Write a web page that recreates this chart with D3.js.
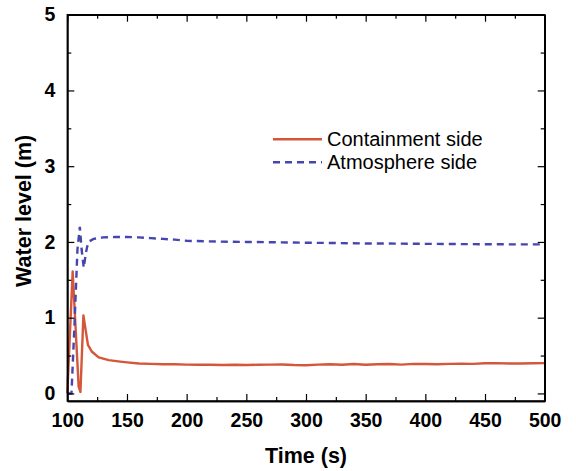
<!DOCTYPE html>
<html>
<head>
<meta charset="utf-8">
<script src="https://cdn.jsdelivr.net/npm/d3@7"></script>
<style>
  html, body { margin: 0; padding: 0; background: #fff; }
  svg { display: block; font-family: "Liberation Sans", Arial, sans-serif; }
</style>
</head>
<body>
<svg id="chart" width="576" height="471"></svg>
<script>
// ---- data ----
const containmentTime = [100, 104.5, 109.5, 111, 113.5, 117.3, 120.7, 126.3, 134.7, 144.4,
  150, 160, 170, 180, 190, 200, 210, 220, 230, 240, 250, 260, 270, 280, 290, 300,
  310, 320, 330, 340, 350, 360, 370, 380, 390, 400, 410, 420, 430, 440, 450, 460,
  470, 480, 490, 500];
const containmentLevel = [0, 1.61, 0.09, 0.02, 1.03, 0.64, 0.55, 0.475, 0.44, 0.42,
  0.41, 0.395, 0.39, 0.385, 0.385, 0.38, 0.378, 0.378, 0.376, 0.378, 0.376, 0.378, 0.38, 0.382, 0.375, 0.372,
  0.38, 0.385, 0.378, 0.388, 0.378, 0.385, 0.388, 0.38, 0.39, 0.388, 0.385, 0.39, 0.392, 0.39, 0.398, 0.4,
  0.395, 0.395, 0.398, 0.4];

const atmosphereTime = [100, 103.5, 106, 108.5, 110.5, 112, 113.8, 115.5, 117.5, 122,
  130, 140, 150, 160, 170, 180, 190, 200, 225, 250, 275, 300, 325, 350, 375, 400,
  425, 450, 475, 500];
const atmosphereLevel = [0, 0, 0.9, 1.9, 2.2, 1.9, 1.66, 1.85, 2.0, 2.04,
  2.06, 2.065, 2.065, 2.06, 2.05, 2.04, 2.03, 2.015, 2.005, 2.0, 1.995, 1.99, 1.985, 1.98, 1.978, 1.975,
  1.972, 1.97, 1.968, 1.968];

const xTicks = [100, 150, 200, 250, 300, 350, 400, 450, 500];
const xMinorTicks = [125, 175, 225, 275, 325, 375, 425, 475];
const yTicks = [0, 1, 2, 3, 4, 5];
const yMinorTicks = [0.5, 1.5, 2.5, 3.5, 4.5];

const seriesNames = ["Containment side", "Atmosphere side"];
const seriesColors = ["#d4573a", "#4646b0"];

// ---- layout ----
const svg = d3.select("#chart");
const L = 67.3, R = 544.7, T = 14.7, B = 401;

const x = d3.scaleLinear().domain([100, 500]).range([L, R]);
const y = d3.scaleLinear().domain([-0.1, 5]).range([B, T]);

// lines
const contData = containmentTime.map((t, i) => [t, containmentLevel[i]]);
const atmData = atmosphereTime.map((t, i) => [t, atmosphereLevel[i]]);
const line = d3.line().x(d => x(d[0])).y(d => y(d[1]));

svg.append("path").datum(contData)
  .attr("d", line).attr("fill", "none")
  .attr("stroke", seriesColors[0]).attr("stroke-width", 2.4)
  .attr("stroke-linejoin", "round");

svg.append("path").datum(atmData)
  .attr("d", line).attr("fill", "none")
  .attr("stroke", seriesColors[1]).attr("stroke-width", 2.4)
  .attr("stroke-dasharray", "7,5");

// axes
function styleAxis(g) {
  g.select(".domain").attr("stroke", "#000").attr("stroke-width", 1.4);
  g.selectAll(".tick line").attr("stroke", "#000").attr("stroke-width", 1.2);
  g.selectAll(".tick text").attr("fill", "#000")
    .style("font-size", "19.5px").style("font-weight", "bold")
    .style("font-family", "'Liberation Sans', Arial, sans-serif");
}

svg.append("g").attr("transform", `translate(0,${B})`)
  .call(d3.axisBottom(x).tickValues(xTicks).tickSizeInner(-7).tickSizeOuter(0).tickPadding(12).tickFormat(d3.format("d")))
  .call(styleAxis);
svg.append("g").attr("transform", `translate(0,${B})`)
  .call(d3.axisBottom(x).tickValues(xMinorTicks).tickSizeInner(-4).tickSizeOuter(0).tickFormat(""))
  .call(styleAxis);
svg.append("g").attr("transform", `translate(0,${T})`)
  .call(d3.axisTop(x).tickValues(xTicks).tickSizeInner(-7).tickSizeOuter(0).tickFormat(""))
  .call(styleAxis);
svg.append("g").attr("transform", `translate(0,${T})`)
  .call(d3.axisTop(x).tickValues(xMinorTicks).tickSizeInner(-4).tickSizeOuter(0).tickFormat(""))
  .call(styleAxis);

svg.append("g").attr("transform", `translate(${L},0)`)
  .call(d3.axisLeft(y).tickValues(yTicks).tickSizeInner(-7).tickSizeOuter(0).tickPadding(12).tickFormat(d3.format("d")))
  .call(styleAxis);
svg.append("g").attr("transform", `translate(${L},0)`)
  .call(d3.axisLeft(y).tickValues(yMinorTicks).tickSizeInner(-4).tickSizeOuter(0).tickFormat(""))
  .call(styleAxis);
svg.append("g").attr("transform", `translate(${R},0)`)
  .call(d3.axisRight(y).tickValues(yTicks).tickSizeInner(-7).tickSizeOuter(0).tickFormat(""))
  .call(styleAxis);
svg.append("g").attr("transform", `translate(${R},0)`)
  .call(d3.axisRight(y).tickValues(yMinorTicks).tickSizeInner(-4).tickSizeOuter(0).tickFormat(""))
  .call(styleAxis);

// frame
svg.append("rect").attr("x", L).attr("y", T).attr("width", R - L).attr("height", B - T)
  .attr("fill", "none").attr("stroke", "#000").attr("stroke-width", 1.4);

// axis titles
svg.append("text").attr("x", (L + R) / 2).attr("y", 463)
  .attr("text-anchor", "middle").style("font-size", "21.5px").style("font-weight", "bold")
  .text("Time (s)");
svg.append("text").attr("transform", `translate(31,${(T + B) / 2 + 3}) rotate(-90)`)
  .attr("text-anchor", "middle").style("font-size", "21.5px").style("font-weight", "bold")
  .text("Water level (m)");

// legend
const legendY = [139.3, 162.3];
seriesNames.forEach((name, i) => {
  svg.append("line").attr("x1", 273).attr("x2", 322).attr("y1", legendY[i]).attr("y2", legendY[i])
    .attr("stroke", seriesColors[i]).attr("stroke-width", 2.4)
    .attr("stroke-dasharray", i === 1 ? "7,5" : null);
  svg.append("text").attr("x", 327).attr("y", legendY[i] + 7)
    .style("font-size", "20px").attr("fill", "#000").text(name);
});
</script>
</body>
</html>
